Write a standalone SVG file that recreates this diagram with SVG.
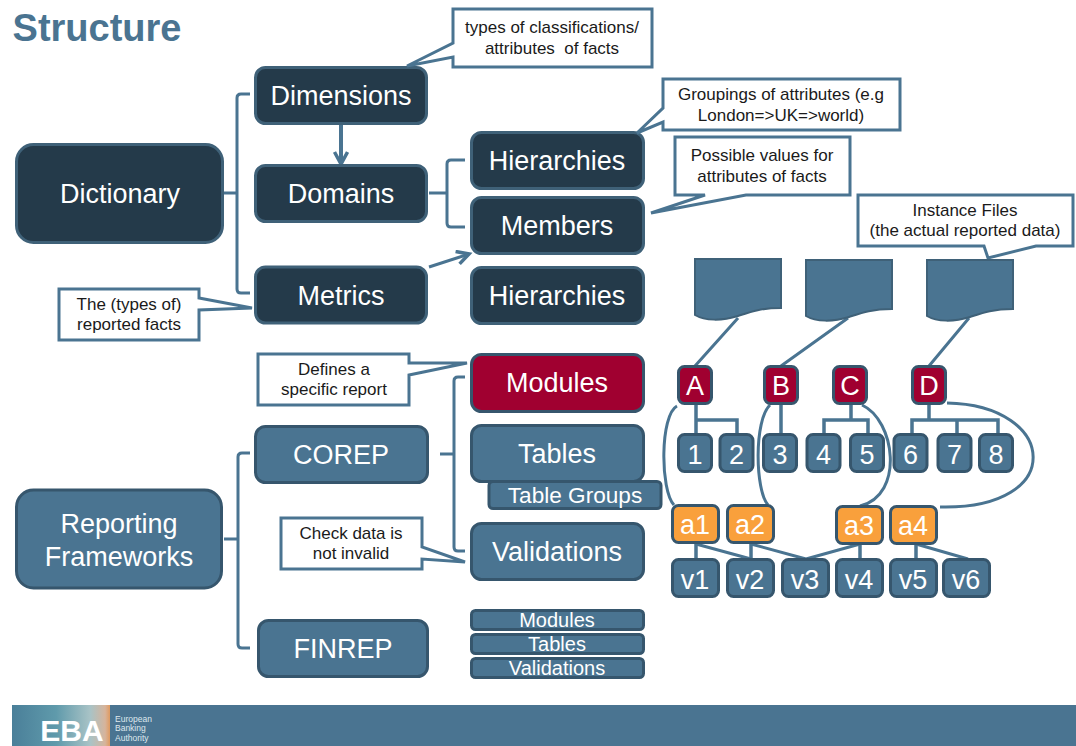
<svg xmlns="http://www.w3.org/2000/svg" width="1076" height="746" viewBox="0 0 1076 746">
<style>
text{font-family:"Liberation Sans",Arial,sans-serif;text-anchor:middle}
.d rect{fill:#243a4a;stroke:#3f6178;stroke-width:3}
.b rect{fill:#4a7491;stroke:#36566d;stroke-width:3}
.r rect{fill:#a00030;stroke:#36566d;stroke-width:3}
.o rect{fill:#f9a03c;stroke:#36566d;stroke-width:3}
.d text,.b text,.r text,.o text{fill:#fff;font-size:27px}
.s text{font-size:22.6px}
.m text{font-size:20px}
.c polygon{fill:#fff;stroke:#4a7491;stroke-width:3;stroke-linejoin:miter}
.c text{fill:#1a1a1a;font-size:17px}
.doc path{fill:#4a7491;stroke:#3f6178;stroke-width:2}
#connectors path{fill:none;stroke:#4a7491;stroke-width:3}
#connectors .t{stroke-width:3.5}
#connectors .a{stroke-width:4}
</style>
<defs>
<marker id="ah" markerWidth="18" markerHeight="18" refX="14" refY="8" orient="auto" markerUnits="userSpaceOnUse"><path d="M2 1.5L14 8L2 14.5" fill="none" stroke="#4a7491" stroke-width="3.5"/></marker>
<linearGradient id="lg" x1="0" x2="1" y1="0" y2="0"><stop offset="0" stop-color="#4a7f99"/><stop offset=".45" stop-color="#5f9aab"/><stop offset=".8" stop-color="#a9c3c6"/><stop offset=".95" stop-color="#d6b49c"/><stop offset="1" stop-color="#e09a60"/></linearGradient>
</defs>
<rect width="1076" height="746" fill="#fff"/>
<text x="97" y="41" font-size="38" font-weight="700" fill="#4a7491">Structure</text>

<g id="connectors">
<path d="M224 193H237M250 94H241Q237 94 237 98V289Q237 293 241 293H250"/>
<path d="M429 193H447M465 160H451Q447 160 447 164V223Q447 227 451 227H465"/>
<path class="a" d="M341 124V164" marker-end="url(#ah)"/>
<path d="M429 267L469 254" marker-end="url(#ah)"/>
<path d="M224 539H238M250 453H242Q238 453 238 457V644Q238 648 242 648H250"/>
<path d="M440 454H454M465 377H458Q454 377 454 381V547Q454 551 458 551H465"/>
<path d="M738 318L695 366M848 318L781 366M969 318L929 366"/>
<path class="t" d="M696 405V434M696 420H737V434M781 405V434M851 405V420M824 434V420H868V434M929 405V420M912 434V420H998V434M957 420V434"/>
<path class="t" d="M696 544V559M751 544V559M860 544V559M916 544V559"/>
<path d="M696 544L751 559M751 544L806 559M860 544L806 559M916 544L968 559"/>
<path d="M677 406C660 415 660 490 674 505M770 405C754 420 755 490 768 505M862 405C895 420 905 495 860 506M947 403C1058 405 1068 510 940 507"/>
</g>

<g id="n-dictionary" class="d"><rect x="16.5" y="144.5" width="206" height="98" rx="17"/><text x="120" y="203">Dictionary</text></g>
<g id="n-dimensions" class="d"><rect x="255.5" y="67.5" width="171" height="56" rx="10"/><text x="341" y="105">Dimensions</text></g>
<g id="n-domains" class="d"><rect x="255.5" y="165.5" width="171" height="56" rx="10"/><text x="341" y="203">Domains</text></g>
<g id="n-metrics" class="d"><rect x="255.5" y="267" width="171" height="56" rx="10"/><text x="341" y="305">Metrics</text></g>
<g id="n-hierarchies1" class="d"><rect x="471.5" y="132.5" width="172" height="56" rx="10"/><text x="557" y="170">Hierarchies</text></g>
<g id="n-members" class="d"><rect x="471.5" y="197.5" width="172" height="56" rx="10"/><text x="557" y="235">Members</text></g>
<g id="n-hierarchies2" class="d"><rect x="471.5" y="267.5" width="172" height="56" rx="10"/><text x="557" y="305">Hierarchies</text></g>

<g id="n-reporting" class="b"><rect x="16.5" y="490" width="205" height="98" rx="17"/><text x="119" y="533">Reporting</text><text x="119" y="566">Frameworks</text></g>
<g id="n-corep" class="b"><rect x="255.5" y="426.5" width="172" height="56" rx="10"/><text x="341" y="464">COREP</text></g>
<g id="n-finrep" class="b"><rect x="258.5" y="620.5" width="169" height="56" rx="10"/><text x="343" y="658">FINREP</text></g>
<g id="n-modules" class="r"><rect x="471.5" y="354.5" width="172" height="57" rx="10"/><text x="557" y="392">Modules</text></g>
<g id="n-tables" class="b"><rect x="471.5" y="425.5" width="172" height="56" rx="10"/><text x="557" y="463">Tables</text></g>
<g id="n-tablegroups" class="b s"><rect x="489" y="481.5" width="172" height="27" rx="4"/><text x="575" y="503">Table Groups</text></g>
<g id="n-validations" class="b"><rect x="471.5" y="523.5" width="172" height="56" rx="10"/><text x="557" y="561">Validations</text></g>
<g id="n-fmodules" class="b m"><rect x="471.5" y="610.5" width="172" height="19" rx="4"/><text x="557" y="627">Modules</text></g>
<g id="n-ftables" class="b m"><rect x="471.5" y="634.5" width="172" height="19" rx="4"/><text x="557" y="651">Tables</text></g>
<g id="n-fvalidations" class="b m"><rect x="471.5" y="658.5" width="172" height="19" rx="4"/><text x="557" y="675">Validations</text></g>

<g id="c-types" class="c"><polygon points="453,9 652,9 652,67 453,67 453,57 407,66 453,43"/><text x="552" y="33">types of classifications/</text><text x="552" y="54" xml:space="preserve">attributes  of facts</text></g>
<g id="c-groupings" class="c"><polygon points="663,79 900,79 900,130 663,130 663,122 637,133 663,108"/><text x="781" y="100">Groupings of attributes (e.g</text><text x="781" y="121">London=&gt;UK=&gt;world)</text></g>
<g id="c-possible" class="c"><polygon points="675,137 850,137 850,195 746,195 651,213 705,195 675,195"/><text x="762" y="161">Possible values for</text><text x="762" y="182">attributes of facts</text></g>
<g id="c-instance" class="c"><polygon points="858,195 1073,195 1073,246 1036,246 988,258 984,246 858,246"/><text x="965" y="216">Instance Files</text><text x="965" y="236">(the actual reported data)</text></g>
<g id="c-types2" class="c"><polygon points="59,289 199,289 199,298 252,308 199,310 199,340 59,340"/><text x="129" y="310">The (types of)</text><text x="129" y="330">reported facts</text></g>
<g id="c-defines" class="c"><polygon points="258,354 409,354 409,363 467,363 409,375 409,405 258,405"/><text x="334" y="375">Defines a</text><text x="334" y="395">specific report</text></g>
<g id="c-check" class="c"><polygon points="281,518 422,518 422,547 465,562 422,559 422,569 281,569"/><text x="351" y="539">Check data is</text><text x="351" y="559">not invalid</text></g>

<g id="n-doc1" class="doc"><path d="M695 259H781V308C760 308 750 312 738 316C722 321 705 321 695 315Z"/></g>
<g id="n-doc2" class="doc"><path d="M806 260H892V309C871 309 861 313 849 317C833 322 816 322 806 316Z"/></g>
<g id="n-doc3" class="doc"><path d="M927 260H1013V309C992 309 982 313 970 317C954 322 937 322 927 316Z"/></g>

<g id="n-A" class="r"><rect x="678.5" y="366.5" width="33" height="37" rx="6"/><text x="695" y="395">A</text></g>
<g id="n-B" class="r"><rect x="764.5" y="366.5" width="33" height="37" rx="6"/><text x="781" y="395">B</text></g>
<g id="n-C" class="r"><rect x="833.5" y="366.5" width="33" height="37" rx="6"/><text x="850" y="395">C</text></g>
<g id="n-D" class="r"><rect x="912.5" y="366.5" width="33" height="37" rx="6"/><text x="929" y="395">D</text></g>
<g id="n-1" class="b"><rect x="678.5" y="434.5" width="33" height="37" rx="6"/><text x="695" y="464">1</text></g>
<g id="n-2" class="b"><rect x="720" y="434.5" width="33" height="37" rx="6"/><text x="736.5" y="464">2</text></g>
<g id="n-3" class="b"><rect x="763.5" y="434.5" width="33" height="37" rx="6"/><text x="780" y="464">3</text></g>
<g id="n-4" class="b"><rect x="807" y="434.5" width="33" height="37" rx="6"/><text x="823.5" y="464">4</text></g>
<g id="n-5" class="b"><rect x="850.5" y="434.5" width="33" height="37" rx="6"/><text x="867" y="464">5</text></g>
<g id="n-6" class="b"><rect x="894" y="434.5" width="33" height="37" rx="6"/><text x="910.5" y="464">6</text></g>
<g id="n-7" class="b"><rect x="938" y="434.5" width="33" height="37" rx="6"/><text x="954.5" y="464">7</text></g>
<g id="n-8" class="b"><rect x="979.5" y="434.5" width="33" height="37" rx="6"/><text x="996" y="464">8</text></g>
<g id="n-a1" class="o"><rect x="672.5" y="505.5" width="46" height="37" rx="6"/><text x="695" y="534">a1</text></g>
<g id="n-a2" class="o"><rect x="727.5" y="505.5" width="46" height="37" rx="6"/><text x="750" y="534">a2</text></g>
<g id="n-a3" class="o"><rect x="836.5" y="506.5" width="46" height="37" rx="6"/><text x="859" y="535">a3</text></g>
<g id="n-a4" class="o"><rect x="890.5" y="506.5" width="46" height="37" rx="6"/><text x="913" y="535">a4</text></g>
<g id="n-v1" class="b"><rect x="672.5" y="559.5" width="46" height="37" rx="6"/><text x="695" y="589">v1</text></g>
<g id="n-v2" class="b"><rect x="727.5" y="559.5" width="46" height="37" rx="6"/><text x="750" y="589">v2</text></g>
<g id="n-v3" class="b"><rect x="782.5" y="559.5" width="46" height="37" rx="6"/><text x="805" y="589">v3</text></g>
<g id="n-v4" class="b"><rect x="836.5" y="559.5" width="46" height="37" rx="6"/><text x="859" y="589">v4</text></g>
<g id="n-v5" class="b"><rect x="890.5" y="559.5" width="46" height="37" rx="6"/><text x="913" y="589">v5</text></g>
<g id="n-v6" class="b"><rect x="943.5" y="559.5" width="46" height="37" rx="6"/><text x="966" y="589">v6</text></g>

<rect x="12" y="705" width="1064" height="41" fill="#4a7491"/>
<rect x="12" y="705" width="98" height="41" fill="url(#lg)"/>
<text x="72" y="741" font-size="30" font-weight="700" fill="#fff">EBA</text>
<g font-size="8.5" fill="#dfe8ee"><text x="115" y="722" style="text-anchor:start">European</text><text x="115" y="731" style="text-anchor:start">Banking</text><text x="115" y="741" style="text-anchor:start">Authority</text></g>
</svg>
